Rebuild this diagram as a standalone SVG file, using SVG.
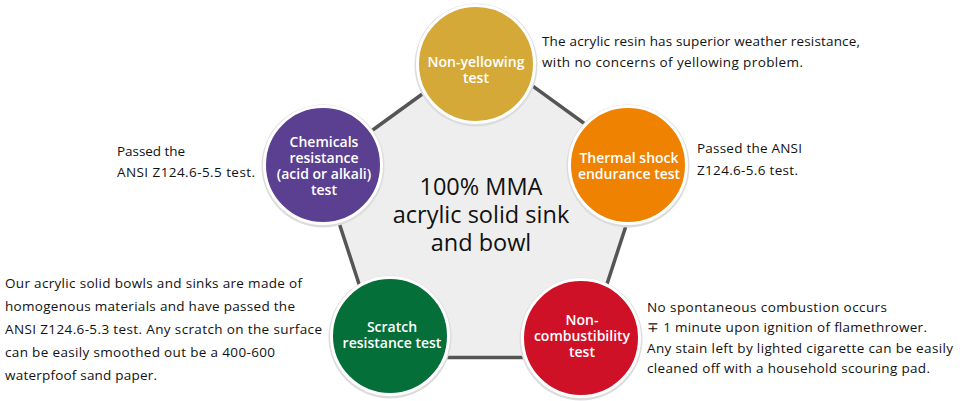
<svg xmlns="http://www.w3.org/2000/svg" width="960" height="401" viewBox="0 0 960 401">
<defs>
<style>
.ring{stroke:#fff;stroke-width:3}
.shadow{fill:#dcdcdc}
.lbl{font-family:"Open Sans","Noto Sans",sans-serif;font-size:14px;font-weight:600;fill:#fff;text-anchor:middle}
.ctr{font-family:"Open Sans","Noto Sans",sans-serif;font-size:23.5px;fill:#111;text-anchor:middle}
.note{font-family:"Open Sans","Noto Sans",sans-serif;font-size:13.5px;fill:#111}
</style>
</defs>
<rect width="960" height="401" fill="#fff"/>
<g id="connectors">
<polygon points="483,50 645,167.5 583,357.5 383,357.5 321,167.5" fill="#eeeeee" stroke="#555" stroke-width="3.5" stroke-linejoin="miter"/>
</g>
<g id="center">
<text class="ctr" x="481" y="195">100% MMA<tspan x="481" dy="28">acrylic solid sink</tspan><tspan x="481" dy="28">and bowl</tspan></text>
</g>
<g id="non-yellowing">
<circle class="shadow" cx="476" cy="65" r="61.5"/>
<circle class="ring" cx="476" cy="64" r="58.5" fill="#D4A937"/>
<text class="lbl" x="476" y="67">Non-yellowing<tspan x="476" dy="16">test</tspan></text>
</g>
<g id="chemicals">
<circle class="shadow" cx="323" cy="166" r="61.5"/>
<circle class="ring" cx="323" cy="165" r="58.5" fill="#5B3F91"/>
<text class="lbl" x="324" y="147">Chemicals<tspan x="324" dy="16">resistance</tspan><tspan x="324" dy="16">(acid or alkali)</tspan><tspan x="324" dy="16">test</tspan></text>
</g>
<g id="thermal">
<circle class="shadow" cx="628" cy="166" r="61.5"/>
<circle class="ring" cx="628" cy="165" r="58.5" fill="#EF8200"/>
<text class="lbl" x="629" y="163">Thermal shock<tspan x="629" dy="16">endurance test</tspan></text>
</g>
<g id="scratch">
<circle class="shadow" cx="390" cy="337" r="61.5"/>
<circle class="ring" cx="390" cy="336" r="58.5" fill="#056F3A"/>
<text class="lbl" x="392" y="332">Scratch<tspan x="392" dy="16">resistance test</tspan></text>
</g>
<g id="non-combustibility">
<circle class="shadow" cx="581" cy="339" r="61.5"/>
<circle class="ring" cx="581" cy="338" r="58.5" fill="#CE1127"/>
<text class="lbl" x="582" y="325">Non-<tspan x="582" dy="16">combustibility</tspan><tspan x="582" dy="16">test</tspan></text>
</g>
<g id="notes">
<text class="note" x="542" y="46" textLength="318">The acrylic resin has superior weather resistance,</text>
<text class="note" x="542" y="67" textLength="261">with no concerns of yellowing problem.</text>
<text class="note" x="117" y="156" textLength="68">Passed the</text>
<text class="note" x="117" y="177" textLength="138">ANSI Z124.6-5.5 test.</text>
<text class="note" x="697" y="153" textLength="105">Passed the ANSI</text>
<text class="note" x="697" y="175" textLength="101">Z124.6-5.6 test.</text>
<text class="note" x="5" y="288" textLength="297">Our acrylic solid bowls and sinks are made of</text>
<text class="note" x="5" y="311" textLength="290">homogenous materials and have passed the</text>
<text class="note" x="5" y="334" textLength="317">ANSI Z124.6-5.3 test. Any scratch on the surface</text>
<text class="note" x="5" y="357" textLength="270">can be easily smoothed out be a 400-600</text>
<text class="note" x="5" y="380" textLength="152">waterpfoof sand paper.</text>
<text class="note" x="647" y="312" textLength="240">No spontaneous combustion occurs</text>
<text class="note" x="647" y="332" textLength="280">∓ 1 minute upon ignition of flamethrower.</text>
<text class="note" x="647" y="353" textLength="306">Any stain left by lighted cigarette can be easily</text>
<text class="note" x="647" y="373" textLength="283">cleaned off with a household scouring pad.</text>
</g>
</svg>
